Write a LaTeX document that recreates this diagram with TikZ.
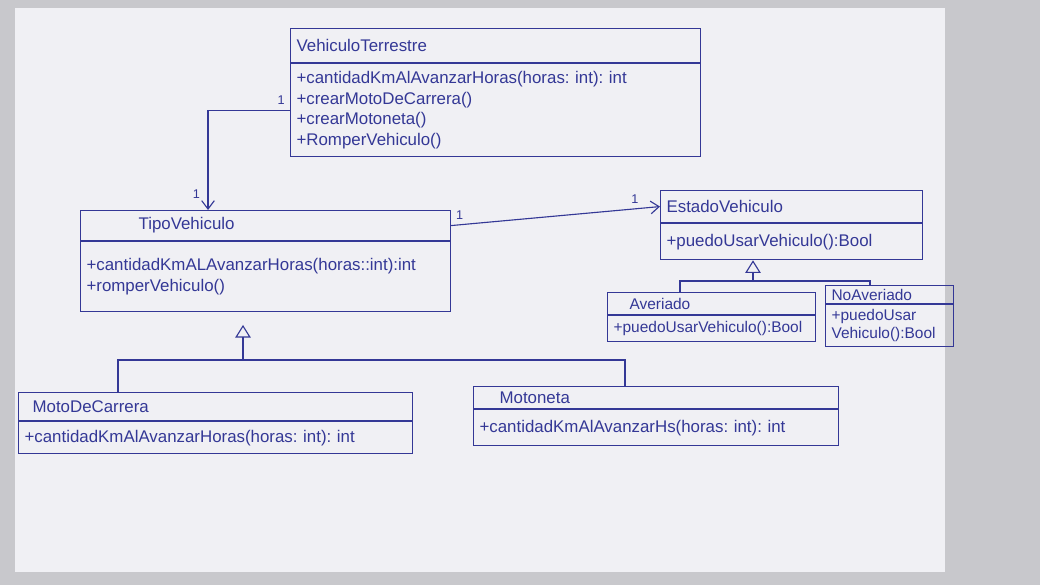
\documentclass[tikz,border=0pt]{standalone}
\usepackage{fontspec}
\setmainfont{Liberation Sans}
\usetikzlibrary{positioning,arrows.meta}
\frenchspacing
\definecolor{ink}{RGB}{52,56,150}
\definecolor{paper}{RGB}{240,240,244}
\definecolor{desk}{RGB}{200,200,204}
\tikzset{cls/.style = {draw=ink, thick, anchor=north west, inner xsep=0.15cm, inner ysep=1pt,
                       align=left, text=ink, font=\fontsize{12}{14.5}\selectfont},
         smallcls/.style = {cls, font=\fontsize{11}{13}\selectfont},
         assoc/.style = {draw=ink, thick, -{Straight Barb[length=6pt,width=9pt]}},
         inherit/.style = {draw=ink, thick, -{Triangle[open,length=9pt,width=11pt]}},
         branch/.style = {draw=ink, thick},
         mult/.style = {text=ink, font=\small}}
\begin{document}
\begin{tikzpicture}[x=0.025cm, y=-0.025cm]
      \useasboundingbox (0,0) rectangle (1040,585);
      \fill [desk] (0,0) rectangle (1040,585);
      \fill [paper] (15,8) rectangle (945,572);
      % VehiculoTerrestre
      \node [cls, minimum height=0.85cm, text width=9.95cm] (vtname) at (290,28) {VehiculoTerrestre};
      \node [cls, minimum height=2.325cm, text width=9.95cm, below right=0pt and 0pt of vtname.south west]
            (vtops) {\mbox{}\\[-6pt]+cantidadKmAlAvanzarHoras(horas: int): int\\+crearMotoDeCarrera()\\+crearMotoneta()\\+RomperVehiculo()};
      % TipoVehiculo
      \node [cls, minimum height=0.75cm, text width=8.95cm] (tvname) at (80,210) {\hspace{1.3cm}TipoVehiculo};
      \node [cls, minimum height=1.75cm, text width=8.95cm, below right=0pt and 0pt of tvname.south west]
            (tvops) {\mbox{}\\[-6pt]+cantidadKmALAvanzarHoras(horas::int):int\\+romperVehiculo()};
      % EstadoVehiculo
      \node [cls, minimum height=0.8cm, text width=6.25cm] (esname) at (660,190) {EstadoVehiculo};
      \node [cls, minimum height=0.9cm, text width=6.25cm, below right=0pt and 0pt of esname.south west]
            (esops) {+puedoUsarVehiculo():Bool};
      % Averiado
      \node [smallcls, minimum height=0.55cm, text width=4.9cm] (avname) at (607,292) {\hspace{0.4cm}Averiado};
      \node [smallcls, minimum height=0.65cm, text width=4.9cm, below right=0pt and 0pt of avname.south west]
            (avops) {+puedoUsarVehiculo():Bool};
      % NoAveriado
      \node [smallcls, minimum height=0.45cm, text width=2.9cm] (naname) at (825,285) {NoAveriado};
      \node [smallcls, minimum height=1.05cm, text width=2.9cm, below right=0pt and 0pt of naname.south west]
            (naops) {+puedoUsar\\Vehiculo():Bool};
      % MotoDeCarrera
      \node [cls, minimum height=0.7cm, text width=9.55cm] (mdcname) at (18,392) {\hspace{0.2cm}MotoDeCarrera};
      \node [cls, minimum height=0.8cm, text width=9.55cm, below right=0pt and 0pt of mdcname.south west]
            (mdcops) {+cantidadKmAlAvanzarHoras(horas: int): int};
      % Motoneta
      \node [cls, minimum height=0.55cm, text width=8.825cm] (mtname) at (473,386) {\hspace{0.5cm}Motoneta};
      \node [cls, minimum height=0.9cm, text width=8.825cm, below right=0pt and 0pt of mtname.south west]
            (mtops) {+cantidadKmAlAvanzarHs(horas: int): int};
      % associations
      \coordinate (tvin) at (208,210);
      \draw [assoc] (vtops.west) -| (tvin)
            node [mult, pos=0, above left] {1} node [mult, pos=0.92, left=2pt] {1};
      \draw [assoc] (tvname.east) -- (esname.west)
            node [mult, pos=0.04, above] {1} node [mult, pos=0.88, above] {1};
      % generalisation of TipoVehiculo
      \coordinate (tvj) at (243,360);
      \coordinate (mdcin) at (118,392);
      \coordinate (mtin) at (625,386);
      \draw [inherit, shorten >=9pt] (tvj) -- (tvj |- tvops.south);
      \draw [branch] (mdcin) |- (tvj) -| (mtin);
      % generalisation of EstadoVehiculo
      \coordinate (esj) at (753,281);
      \coordinate (avin) at (680,292);
      \coordinate (nain) at (870,285);
      \draw [inherit] (esj) -- (esj |- esops.south);
      \draw [branch] (avin) |- (esj) -| (nain);
\end{tikzpicture}
\end{document}
